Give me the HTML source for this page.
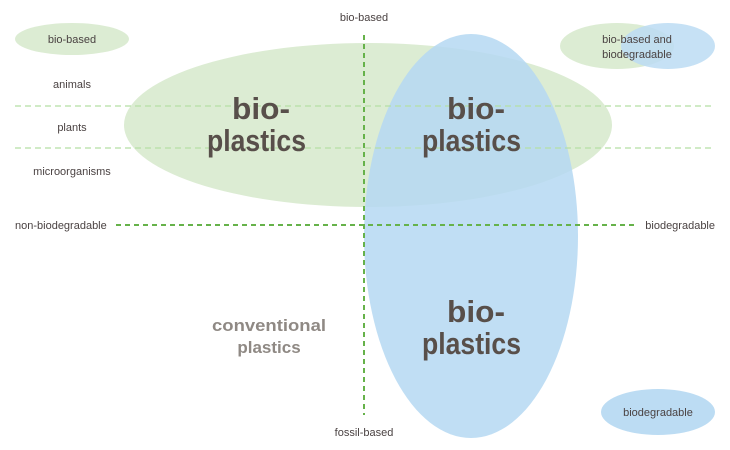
<!DOCTYPE html>
<html><head><meta charset="utf-8"><style>
html,body{margin:0;padding:0;background:#fff;}
svg{display:block}
text{font-family:"Liberation Sans",sans-serif;}
.s{font-size:11px;fill:#4a4242;}
.b{font-size:31px;font-weight:bold;fill:#584f4a;}
.c{font-size:17px;font-weight:bold;fill:#8f8984;}
</style></head><body>
<svg width="730" height="450" viewBox="0 0 730 450">
<ellipse cx="72" cy="39" rx="57" ry="16" fill="#dcecd3"/>
<ellipse cx="617" cy="46" rx="57" ry="23" fill="#dcecd3"/>
<ellipse cx="668" cy="46" rx="47" ry="23" fill="#bcdcf3" fill-opacity="0.85"/>
<ellipse cx="658" cy="412" rx="57" ry="23" fill="#bcdcf3"/>
<ellipse cx="368" cy="125" rx="244" ry="82" fill="#dcecd3"/>
<ellipse cx="471" cy="236" rx="107" ry="202" fill="#b5d8f2" fill-opacity="0.85"/>
<line x1="15" y1="106" x2="715" y2="106" stroke="#b5dfa5" stroke-width="1.3" stroke-dasharray="6,4"/>
<line x1="15" y1="148" x2="715" y2="148" stroke="#b5dfa5" stroke-width="1.3" stroke-dasharray="6,4"/>
<line x1="364" y1="35" x2="364" y2="415" stroke="#66b24a" stroke-width="2" stroke-dasharray="5,4"/>
<line x1="116" y1="225" x2="635" y2="225" stroke="#66b24a" stroke-width="2" stroke-dasharray="5,4"/>
<text class="s" x="72" y="43" text-anchor="middle">bio-based</text>
<text class="s" x="72" y="88" text-anchor="middle">animals</text>
<text class="s" x="72" y="131" text-anchor="middle">plants</text>
<text class="s" x="72" y="175" text-anchor="middle">microorganisms</text>
<text class="s" x="15" y="229">non-biodegradable</text>
<text class="s" x="715" y="229" text-anchor="end">biodegradable</text>
<text class="s" x="364" y="21" text-anchor="middle">bio-based</text>
<text class="s" x="364" y="436" text-anchor="middle">fossil-based</text>
<text class="s" x="637" y="43" text-anchor="middle">bio-based and</text>
<text class="s" x="637" y="58" text-anchor="middle">biodegradable</text>
<text class="s" x="658" y="416" text-anchor="middle">biodegradable</text>
<text class="b" x="232" y="119" textLength="58" lengthAdjust="spacingAndGlyphs">bio-</text>
<text class="b" x="207" y="151" textLength="99" lengthAdjust="spacingAndGlyphs">plastics</text>
<text class="b" x="447" y="119" textLength="58" lengthAdjust="spacingAndGlyphs">bio-</text>
<text class="b" x="422" y="151" textLength="99" lengthAdjust="spacingAndGlyphs">plastics</text>
<text class="b" x="447" y="322" textLength="58" lengthAdjust="spacingAndGlyphs">bio-</text>
<text class="b" x="422" y="354" textLength="99" lengthAdjust="spacingAndGlyphs">plastics</text>
<text class="c" x="212" y="331" textLength="114" lengthAdjust="spacingAndGlyphs">conventional</text>
<text class="c" x="269" y="353" text-anchor="middle">plastics</text>
</svg>
</body></html>
